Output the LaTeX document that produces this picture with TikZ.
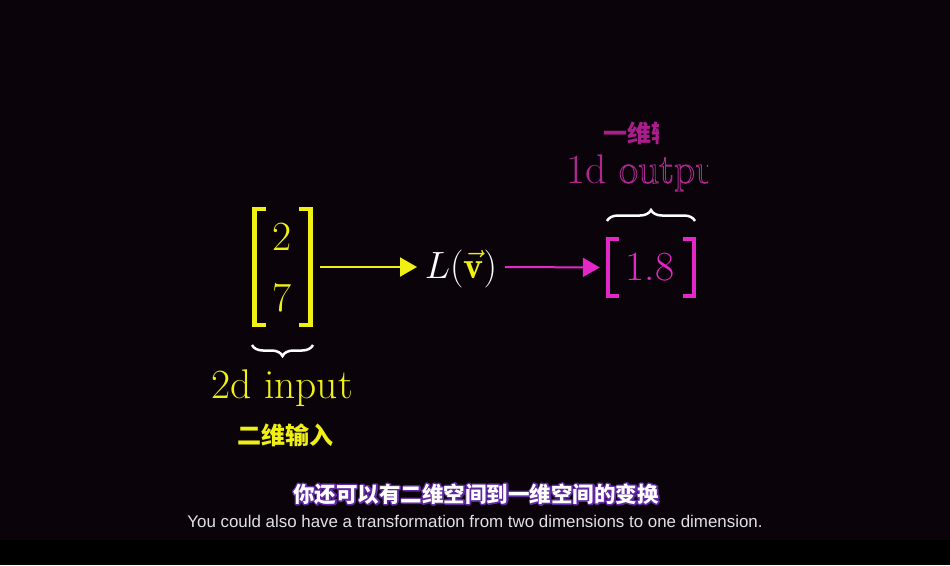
\RequirePackage{fix-cm}
\documentclass[tikz,border=0pt]{standalone}
\usepackage{fontspec}
\newfontfamily\cjk{Noto Sans CJK SC}
\newfontfamily\subfont{Liberation Sans}
\usetikzlibrary{arrows.meta,decorations.pathreplacing,calc}
\definecolor{bg}{RGB}{10,4,10}
\definecolor{yel}{RGB}{240,240,20}
\definecolor{mag}{RGB}{228,40,200}
\definecolor{outmag}{RGB}{175,40,145}
\definecolor{cjkmag}{RGB}{170,30,140}
\definecolor{glow}{RGB}{95,40,160}
\definecolor{subgray}{RGB}{225,225,225}
\tikzset{
  big/.style={font=\fontsize{41.5}{48}\selectfont, inner sep=0pt},
  ybracket/.style={draw=yel, line width=4.5pt, miter limit=10},
  mbracket/.style={draw=mag, line width=3.5pt, miter limit=10},
  conn/.style={line width=2pt, -{Triangle[length=17pt,width=19pt]}},
  bracebig/.style={decorate, decoration={brace, amplitude=11pt}, line width=2.5pt},
  cjklabel/.style={font=\cjk\bfseries\fontsize{24}{28}\selectfont, inner sep=0pt},
  subcjk/.style={font=\cjk\bfseries\fontsize{21.5}{26}\selectfont, inner sep=0pt}
}
\begin{document}
\begin{tikzpicture}[x=1pt,y=1pt]
\fill[bg] (0,0) rectangle (950,-540);
\fill[black] (0,-540) rectangle (950,-565);
\useasboundingbox (0,0) rectangle (950,-565);

% left matrix
\node[inner sep=0pt, minimum width=62pt, minimum height=121pt] (lmat) at (282.5,-267) {};
\draw[ybracket] (266,-209) -- (254.5,-209) -- (254.5,-325) -- (266,-325);
\draw[ybracket] (299,-209) -- (310.5,-209) -- (310.5,-325) -- (299,-325);
\node[big, text=yel, anchor=base] (n2) at (282,-250) {2};
\node[big, text=yel, anchor=base] (n7) at (282,-311) {7};

% L(v)
\node[font=\fontsize{38}{44}\selectfont, inner sep=0pt, text=white] (Lv) at (461,-269) {$L(\textcolor{yel}{\vec{\mathbf{v}}})$};

% right matrix
\node[inner sep=0pt, minimum width=90pt, minimum height=61pt] (rmat) at (651,-267.5) {};
\draw[mbracket] (619,-239) -- (608,-239) -- (608,-296) -- (619,-296);
\draw[mbracket] (683,-239) -- (694,-239) -- (694,-296) -- (683,-296);
\node[big, text=mag, anchor=base] (n18) at (650,-280) {1.8};

% connectors (horizontal at y = 267)
\draw[conn, draw=yel, fill=yel, shorten <=6.5pt] (lmat.east) -- (lmat.east -| 417,0);
\draw[conn, draw=mag, fill=mag, shorten >=6pt] (505,-267) -- (rmat.west);

% braces
\draw[bracebig, white] (607,-221) -- (695,-221);
\draw[bracebig, white, decoration={mirror}] (252,-345) -- (313,-345);

% labels
\node[big, text=yel, anchor=base] (inlab) at (282,-398) {2d input};
\node[cjklabel, text=yel] (incjk) at (285.5,-435) {二维输入};

\begin{scope}
  \clip (540,-140) rectangle (708,-200);
  \node[big, text=outmag, anchor=base west] (outlab) at (566,-183) {1d \special{pdf:literal 1 Tr 0.9 w}output\special{pdf:literal 0 Tr}};
\end{scope}
\begin{scope}
  \clip (580,-115) rectangle (658,-150);
  \node[cjklabel, text=cjkmag] (outcjk) at (651,-133) {一维输出};
\end{scope}

% subtitles
\node[subcjk, text=glow] (subglow) at (476,-494) {\special{pdf:literal 2 Tr 3 w 1 j}你还可以有二维空间到一维空间的变换\special{pdf:literal 0 Tr}};
\node[subcjk, text=white] (subcn) at (476,-494) {你还可以有二维空间到一维空间的变换};
\node[font=\subfont\fontsize{16.9}{20}\selectfont, text=subgray, inner sep=0pt] (suben) at (475,-521) {You could also have a transformation from two dimensions to one dimension.};
\end{tikzpicture}
\end{document}
